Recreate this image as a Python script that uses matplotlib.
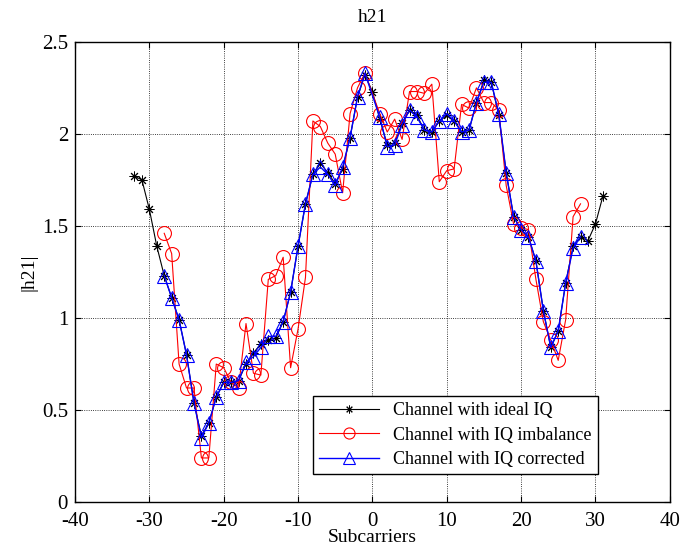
import numpy as np
import matplotlib.pyplot as plt

plt.rcParams['font.family'] = ['Liberation Serif', 'DejaVu Serif']
plt.rcParams['axes.unicode_minus'] = False

# subcarrier indices
sc_ideal = list(range(-32, 32))
sc_data = list(range(-28, 0)) + list(range(1, 29))

# |h21| for the ideal channel (all 64 subcarriers)
h_ideal = [1.77, 1.75, 1.59, 1.39,
           1.23, 1.11, 0.99, 0.80, 0.54, 0.36, 0.43, 0.57, 0.65, 0.65, 0.66, 0.75, 0.81, 0.86, 0.88, 0.89, 0.98, 1.14,
           1.39, 1.62, 1.78, 1.84, 1.79, 1.73, 1.81, 1.98, 2.20, 2.32,
           2.23,
           2.08, 1.94, 1.95, 2.06, 2.13, 2.10, 2.02, 2.01, 2.07, 2.10, 2.07, 2.01, 2.02, 2.17, 2.29, 2.28,
           2.10, 1.79, 1.55, 1.48, 1.44, 1.31, 1.04, 0.84, 0.93, 1.19, 1.39, 1.44,
           1.42, 1.51, 1.66]

# |h21| with IQ imbalance
h_imbal = [1.46, 1.35, 0.75, 0.62, 0.62, 0.24, 0.24, 0.75, 0.73, 0.65, 0.62, 0.97, 0.70, 0.69, 1.21, 1.23, 1.33, 0.73,
           0.94, 1.22, 2.07, 2.04, 1.95, 1.89, 1.68, 2.11, 2.25, 2.33,
           2.11, 2.01, 2.08, 1.97, 2.23, 2.23, 2.22, 2.27, 1.74, 1.80, 1.81, 2.16, 2.14, 2.25, 2.17, 2.17, 2.13, 1.72,
           1.51, 1.49, 1.48, 1.21, 0.98, 0.88, 0.77, 0.99, 1.55, 1.62]

# |h21| after IQ correction
h_corr = [1.23, 1.11, 0.99, 0.80, 0.54, 0.35, 0.43, 0.57, 0.65, 0.65, 0.66, 0.76, 0.79, 0.84, 0.90, 0.90, 0.98, 1.14,
          1.39, 1.62, 1.78, 1.82, 1.78, 1.72, 1.82, 1.98, 2.20, 2.33,
          2.09, 1.93, 1.94, 2.05, 2.13, 2.09, 2.02, 2.01, 2.07, 2.11, 2.07, 2.01, 2.02, 2.17, 2.28, 2.28, 2.11, 1.79,
          1.55, 1.48, 1.44, 1.31, 1.04, 0.84, 0.93, 1.19, 1.38, 1.44]

fig = plt.figure(figsize=(6.82, 5.5), dpi=100)
ax = fig.add_axes([0.110, 0.087, 0.872, 0.837])

ax.plot(sc_ideal, h_ideal, color='black', lw=0.8, marker=(8, 2, 0), ms=7, mew=0.7,
        label='Channel with ideal IQ')
ax.plot(sc_data, h_imbal, color='red', lw=0.8, marker='o', ms=10, mfc='none', mew=0.8,
        label='Channel with IQ imbalance')
ax.plot(sc_data, h_corr, color='blue', lw=1.0, marker='^', ms=10, mfc='none', mew=0.8,
        label='Channel with IQ corrected')

ax.set_xlim(-40, 40)
ax.set_ylim(0, 2.5)
ax.set_xticks(np.arange(-40, 41, 10))
ax.set_yticks([0, 0.5, 1, 1.5, 2, 2.5])
ax.set_yticklabels(['0', '0.5', '1', '1.5', '2', '2.5'])
ax.grid(True, color='black', linestyle=':', linewidth=0.6)
ax.tick_params(direction='in', top=True, right=True, labelsize=15, length=4)
ax.tick_params(axis='x', pad=7)
ax.tick_params(axis='y', pad=5)
for s in ax.spines.values():
    s.set_linewidth(1.0)

ax.set_title('h21', fontsize=14, pad=14)
ax.set_xlabel('Subcarriers', fontsize=14, labelpad=-1)
ax.set_ylabel('|h21|', fontsize=14, labelpad=3)

leg = ax.legend(loc='lower left', bbox_to_anchor=(0.385, 0.041), fontsize=13,
                fancybox=False, framealpha=1, edgecolor='black', handlelength=3.3,
                borderpad=0.35, labelspacing=0.4, markerscale=0.8)
leg.get_frame().set_linewidth(1.0)

fig.savefig('out.png', dpi=100)
